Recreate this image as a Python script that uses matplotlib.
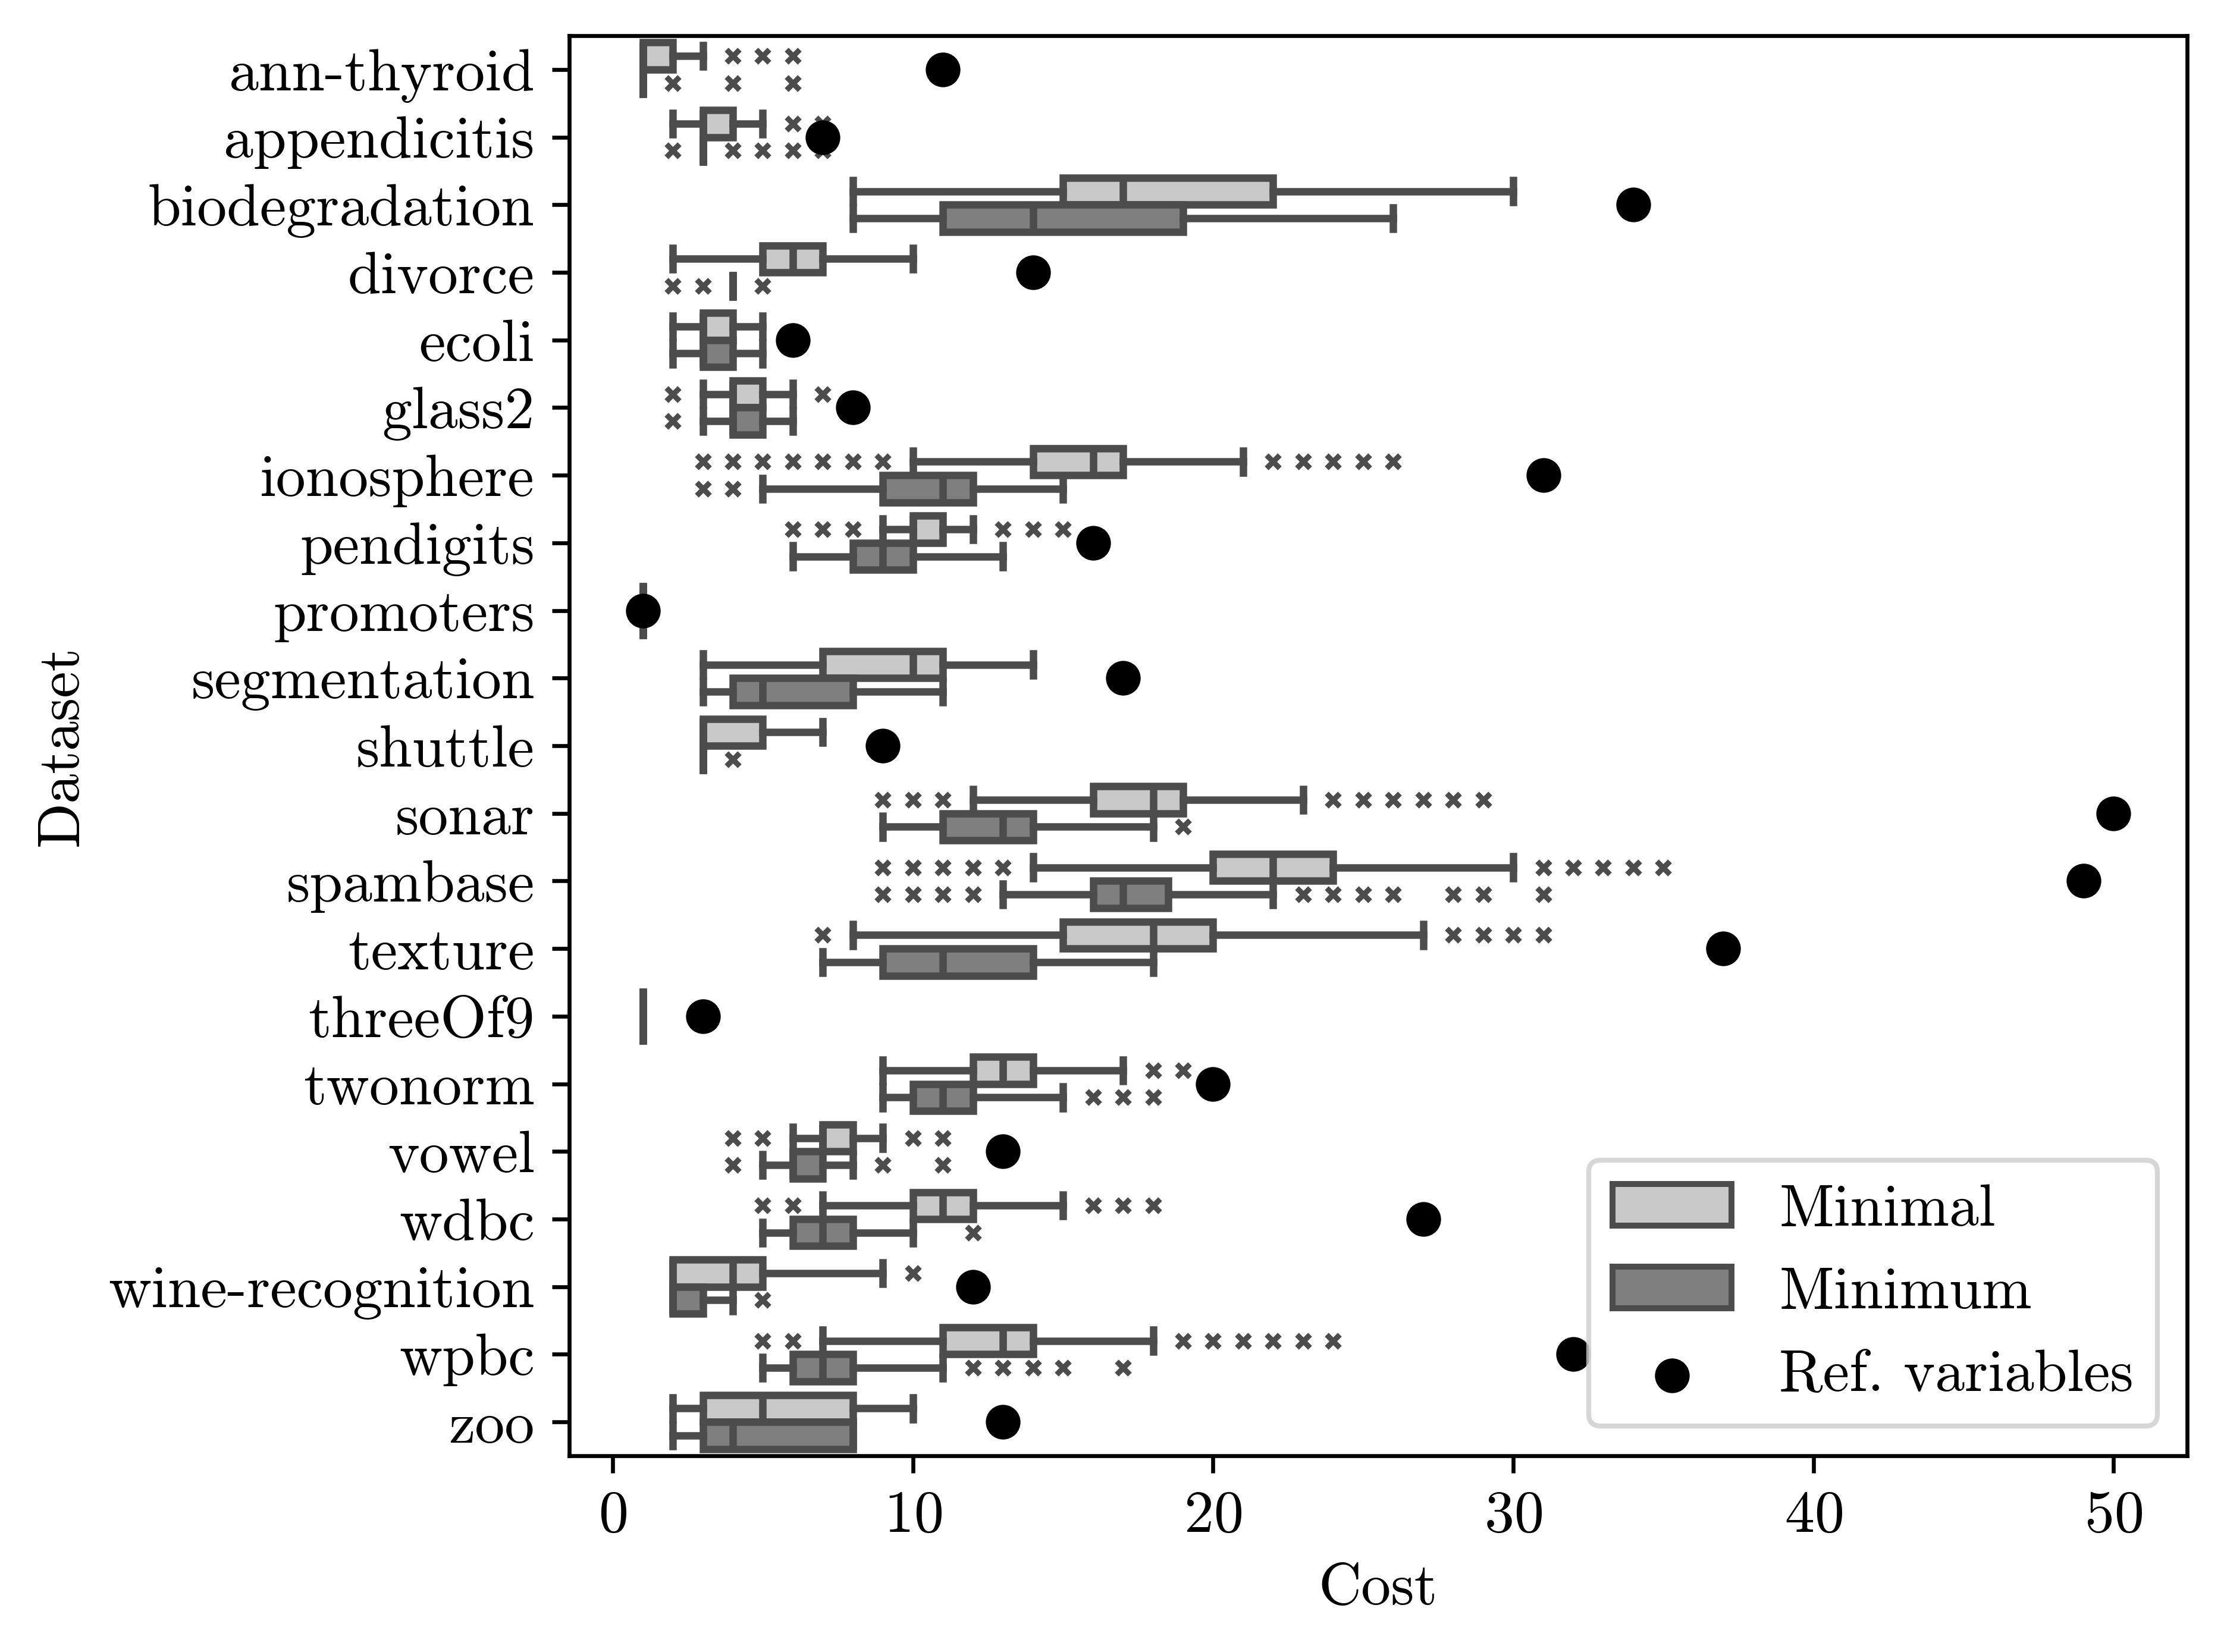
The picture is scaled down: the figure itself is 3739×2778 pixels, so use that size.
import matplotlib
matplotlib.use('Agg')
import matplotlib.pyplot as plt
from matplotlib.patches import Patch

plt.rcParams['font.family'] = 'serif'
plt.rcParams['font.serif'] = ['cmr10', 'DejaVu Serif']
plt.rcParams['mathtext.fontset'] = 'cm'
plt.rcParams['axes.formatter.use_mathtext'] = True
plt.rcParams['axes.unicode_minus'] = False
FS = 12.0
plt.rcParams['font.size'] = FS

datasets = ['ann-thyroid', 'appendicitis', 'biodegradation', 'divorce', 'ecoli',
            'glass2', 'ionosphere', 'pendigits', 'promoters', 'segmentation',
            'shuttle', 'sonar', 'spambase', 'texture', 'threeOf9', 'twonorm',
            'vowel', 'wdbc', 'wine-recognition', 'wpbc', 'zoo']

# Minimal: whisker low, q1, median, q3, whisker high, outliers
minimal_lo  = [1, 2, 8, 2, 2, 3, 10, 9, 1, 3, 3, 12, 14, 8, 1, 9, 6, 7, 2, 7, 2]
minimal_q1  = [1, 3, 15, 5, 3, 4, 14, 10, 1, 7, 3, 16, 20, 15, 1, 12, 7, 10, 2, 11, 3]
minimal_med = [1, 3, 17, 6, 3, 4, 16, 10, 1, 10, 3, 18, 22, 18, 1, 13, 7, 11, 4, 13, 5]
minimal_q3  = [2, 4, 22, 7, 4, 5, 17, 11, 1, 11, 5, 19, 24, 20, 1, 14, 8, 12, 5, 14, 8]
minimal_hi  = [3, 5, 30, 10, 5, 6, 21, 12, 1, 14, 7, 23, 30, 27, 1, 17, 9, 15, 9, 18, 10]
minimal_out = [[4, 5, 6], [6, 7], [], [], [], [2, 7],
               [3, 4, 5, 6, 7, 8, 9, 22, 23, 24, 25, 26],
               [6, 7, 8, 13, 14, 15], [], [], [],
               [9, 10, 11, 24, 25, 26, 27, 28, 29],
               [9, 10, 11, 12, 13, 31, 32, 33, 34, 35],
               [7, 28, 29, 30, 31], [], [18, 19], [4, 5, 10, 11],
               [5, 6, 16, 17, 18], [10], [5, 6, 19, 20, 21, 22, 23, 24], []]

# Minimum
minimum_lo  = [1, 3, 8, 4, 2, 3, 5, 6, 1, 3, 3, 9, 13, 7, 1, 9, 5, 5, 2, 5, 2]
minimum_q1  = [1, 3, 11, 4, 3, 4, 9, 8, 1, 4, 3, 11, 16, 9, 1, 10, 6, 6, 2, 6, 3]
minimum_med = [1, 3, 14, 4, 3, 4, 11, 9, 1, 5, 3, 13, 17, 11, 1, 11, 6, 7, 2, 7, 4]
minimum_q3  = [1, 3, 19, 4, 4, 5, 12, 10, 1, 8, 3, 14, 18.5, 14, 1, 12, 7, 8, 3, 8, 8]
minimum_hi  = [1, 3, 26, 4, 5, 6, 15, 13, 1, 11, 3, 18, 22, 18, 1, 15, 8, 10, 4, 11, 8]
minimum_out = [[2, 4, 6], [2, 4, 5, 6, 7], [], [2, 3, 5], [], [2], [3, 4], [], [],
               [], [4], [19], [9, 10, 11, 12, 23, 24, 25, 26, 28, 29, 31], [], [],
               [16, 17, 18], [4, 9, 11], [12], [5], [12, 13, 14, 15, 17], []]

ref_variables = [11, 7, 34, 14, 6, 8, 31, 16, 1, 17, 9, 50, 49, 37, 3, 20, 13, 27, 12, 32, 13]

series_names = ['Minimal', 'Minimum']
series_colors = ['#c8c8c8', '#7f7f7f']
edge = '#4c4c4c'

W, H = 3739, 2778
fig = plt.figure(figsize=(W / 600, H / 600), dpi=600)
ax = fig.add_axes([957 / W, 1 - 2448 / H, (3677 - 957) / W, (2448 - 60) / H])

def make_stats(lo, q1, med, q3, hi, out):
    return [dict(whislo=a, q1=b, med=c, q3=d, whishi=e, fliers=f)
            for a, b, c, d, e, f in zip(lo, q1, med, q3, hi, out)]

all_stats = [make_stats(minimal_lo, minimal_q1, minimal_med, minimal_q3, minimal_hi, minimal_out),
             make_stats(minimum_lo, minimum_q1, minimum_med, minimum_q3, minimum_hi, minimum_out)]
offsets = [-0.2, 0.2]
lw = 1.5
for stats, off, col in zip(all_stats, offsets, series_colors):
    pos = [i + off for i in range(len(datasets))]
    ax.bxp(stats, positions=pos, widths=0.4, capwidths=0.32,
           orientation='horizontal', patch_artist=True, manage_ticks=False,
           boxprops=dict(facecolor=col, edgecolor=edge, linewidth=lw),
           whiskerprops=dict(color=edge, linewidth=lw),
           capprops=dict(color=edge, linewidth=lw),
           medianprops=dict(color=edge, linewidth=lw),
           flierprops=dict(marker='x', markersize=2.6, markeredgecolor=edge,
                           markerfacecolor=edge, markeredgewidth=1.1, linestyle='none'))

ref_art = ax.scatter(ref_variables, list(range(len(datasets))), s=49, marker='o',
                     color='black', linewidths=0, zorder=5, label='Ref. variables')

ax.set_yticks(range(len(datasets)))
ax.set_yticklabels(datasets)
ax.set_ylim(len(datasets) - 0.5, -0.5)
ax.set_xlim(-1.45, 52.45)
ax.set_xticks([0, 10, 20, 30, 40, 50])
ax.set_xlabel('Cost')
ax.set_ylabel('Dataset')

handles = [Patch(facecolor=series_colors[0], edgecolor=edge, linewidth=1.2, label=series_names[0]),
           Patch(facecolor=series_colors[1], edgecolor=edge, linewidth=1.2, label=series_names[1]),
           ref_art]
ax.legend(handles=handles, loc='lower right', scatterpoints=1)

fig.savefig('out.png', dpi=600)
